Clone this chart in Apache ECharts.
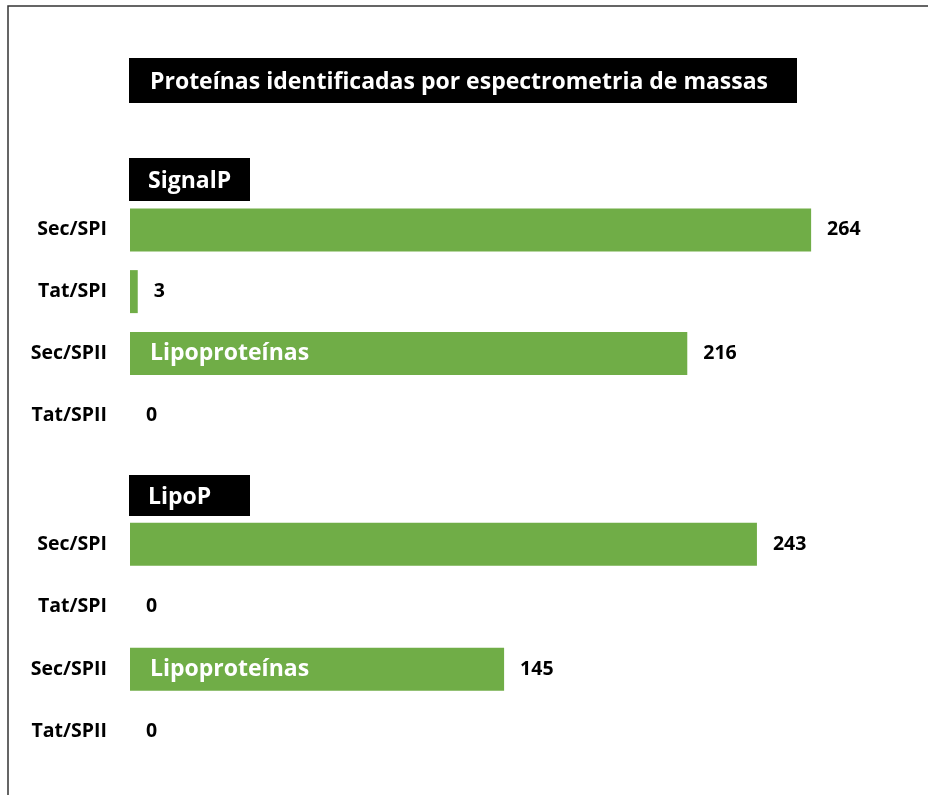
<!DOCTYPE html>
<html>
<head>
<meta charset="utf-8">
<script src="https://cdn.jsdelivr.net/npm/echarts@6/dist/echarts.min.js"></script>
<style>
html,body{margin:0;padding:0;background:#fff;}
#c{width:928px;height:795px;}
</style>
</head>
<body>
<div id="c"></div>
<script>
const chartTitle = 'Proteínas identificadas por espectrometria de massas';
const groupTitles = ['SignalP', 'LipoP'];
const categories = ['Sec/SPI', 'Tat/SPI', 'Sec/SPII', 'Tat/SPII'];
const signalPValues = [264, 3, 216, 0];
const lipoPValues = [243, 0, 145, 0];
const innerLabels = ['', '', 'Lipoproteínas', ''];

const FONT = '"Open Sans", sans-serif';
const GREEN = '#70AD47';

const chart = echarts.init(document.getElementById('c'), null, {renderer: 'canvas'});

function xAxisFor(i) {
  return {gridIndex: i, type: 'value', min: 0, max: 300, show: false};
}
function yAxisFor(i) {
  return {
    gridIndex: i, type: 'category', data: categories, inverse: true,
    axisLine: {show: false}, axisTick: {show: false}, splitLine: {show: false},
    axisLabel: {color: '#000', fontFamily: FONT, fontWeight: 'bold', fontSize: 19.5, margin: 23}
  };
}
function valueSeries(i, values) {
  return {
    type: 'bar', xAxisIndex: i, yAxisIndex: i, data: values, barWidth: 43,
    itemStyle: {color: GREEN}, silent: true,
    label: {show: true, position: 'right', distance: 16, color: '#000',
      fontFamily: FONT, fontWeight: 'bold', fontSize: 19.5}
  };
}
function innerSeries(i, values) {
  return {
    type: 'bar', xAxisIndex: i, yAxisIndex: i, data: values, barWidth: 43, barGap: '-100%',
    itemStyle: {color: 'rgba(0,0,0,0)'}, silent: true, z: 5,
    label: {show: true, position: 'insideLeft', distance: 20, color: '#fff',
      fontFamily: FONT, fontWeight: 'bold', fontSize: 23,
      formatter: p => innerLabels[p.dataIndex]}
  };
}
function box(x, y, w, h, text, size, pad) {
  return {
    type: 'group', x: x, y: y, silent: true,
    children: [
      {type: 'rect', shape: {x: 0, y: 0, width: w, height: h}, style: {fill: '#000'}},
      {type: 'text', x: pad, y: h / 2 + 2, style: {text: text, fill: '#fff', font: 'bold ' + size + 'px ' + FONT, verticalAlign: 'middle', textVerticalAlign: 'middle'}}
    ]
  };
}

chart.setOption({
  backgroundColor: '#fff',
  animation: false,
  grid: [
    {left: 130, top: 199, width: 774, height: 247},
    {left: 130, top: 513, width: 774, height: 250}
  ],
  xAxis: [xAxisFor(0), xAxisFor(1)],
  yAxis: [yAxisFor(0), yAxisFor(1)],
  series: [
    valueSeries(0, signalPValues), innerSeries(0, signalPValues),
    valueSeries(1, lipoPValues), innerSeries(1, lipoPValues)
  ],
  graphic: [
    {type: 'rect', silent: true, shape: {x: 8, y: 6, width: 1000, height: 1000},
      style: {fill: 'none', stroke: '#333', lineWidth: 1.5}},
    box(129, 58, 668, 45, chartTitle, 23, 21),
    box(129, 158, 121, 43, groupTitles[0], 23, 19),
    box(129, 475, 121, 41, groupTitles[1], 23, 19)
  ]
});
</script>
</body>
</html>
